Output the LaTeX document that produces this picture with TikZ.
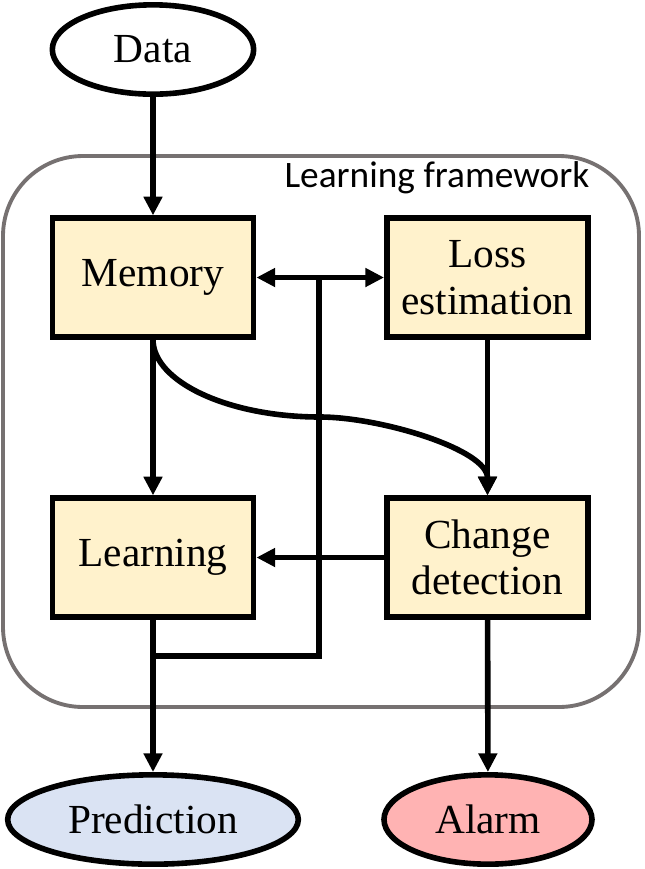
\documentclass[tikz,border=0pt]{standalone}
\usepackage{fontspec}
\usepackage{xcolor}
\usepackage{tikz}
\usetikzlibrary{arrows.meta, positioning, shapes.geometric}
\setmainfont{Liberation Serif}
\newfontfamily\framefont{Carlito}
\definecolor{boxfill}{RGB}{255,242,204}
\definecolor{predfill}{RGB}{218,227,243}
\definecolor{alarmfill}{RGB}{255,179,179}
\definecolor{framegray}{RGB}{118,113,113}
\newcommand{\bodyfont}{\fontsize{31}{35}\selectfont}

\begin{document}
\begin{tikzpicture}[x=0.75pt, y=-0.75pt,
  box/.style={draw, line width=4.2pt, fill=boxfill, align=center, font=\bodyfont,
    minimum width=151pt, minimum height=89pt, inner sep=0pt},
  term/.style={draw, ellipse, line width=4.2pt, font=\bodyfont, inner sep=0pt,
    minimum height=67pt},
  link/.style={line width=4.2pt},
  >={Triangle[length=14pt, width=13.5pt]}]
  \useasboundingbox (0,0) rectangle (644,869);
  % framework outline
  \draw[framegray, line width=2.9pt, rounded corners=60pt] (3,156) rectangle (639,707);
  \node[font=\framefont\fontsize{28}{32}\selectfont, anchor=east] (fw) at (594,178) {Learning framework};
  % terminals
  \node[term, minimum width=151pt] (data) at (153,49.5) {Data};
  \node[term, minimum width=218pt, fill=predfill] (pred) at (153,819.5) {Prediction};
  \node[term, minimum width=156pt, fill=alarmfill] (alarm) at (488,819.5) {Alarm};
  % blocks
  \node[box] (mem) at (153,277.5) {Memory};
  \node[box] (loss) at (487.5,277.5) {Loss\\estimation};
  \node[box] (lrn) at (153,557.5) {Learning};
  \node[box] (chg) at (487.5,557.5) {Change\\detection};
  \coordinate (tap) at (319,277.5);
  \coordinate (merge) at (153,656);
  \coordinate (bend) at (320,417);
  % connectors
  \foreach \a/\b in {data/mem, mem/lrn, loss/chg, chg/lrn, lrn/pred, chg/alarm}
    \draw[link, ->] (\a) -- (\b);
  \draw[link, <->] (mem) -- (loss);
  \draw[link] (tap) |- (merge);
  \draw[link, ->] (mem.south) .. controls +(0,42) and +(-92,0) .. (bend)
    .. controls +(60,0) and +(0,-46) .. (chg.north);
\end{tikzpicture}
\end{document}
